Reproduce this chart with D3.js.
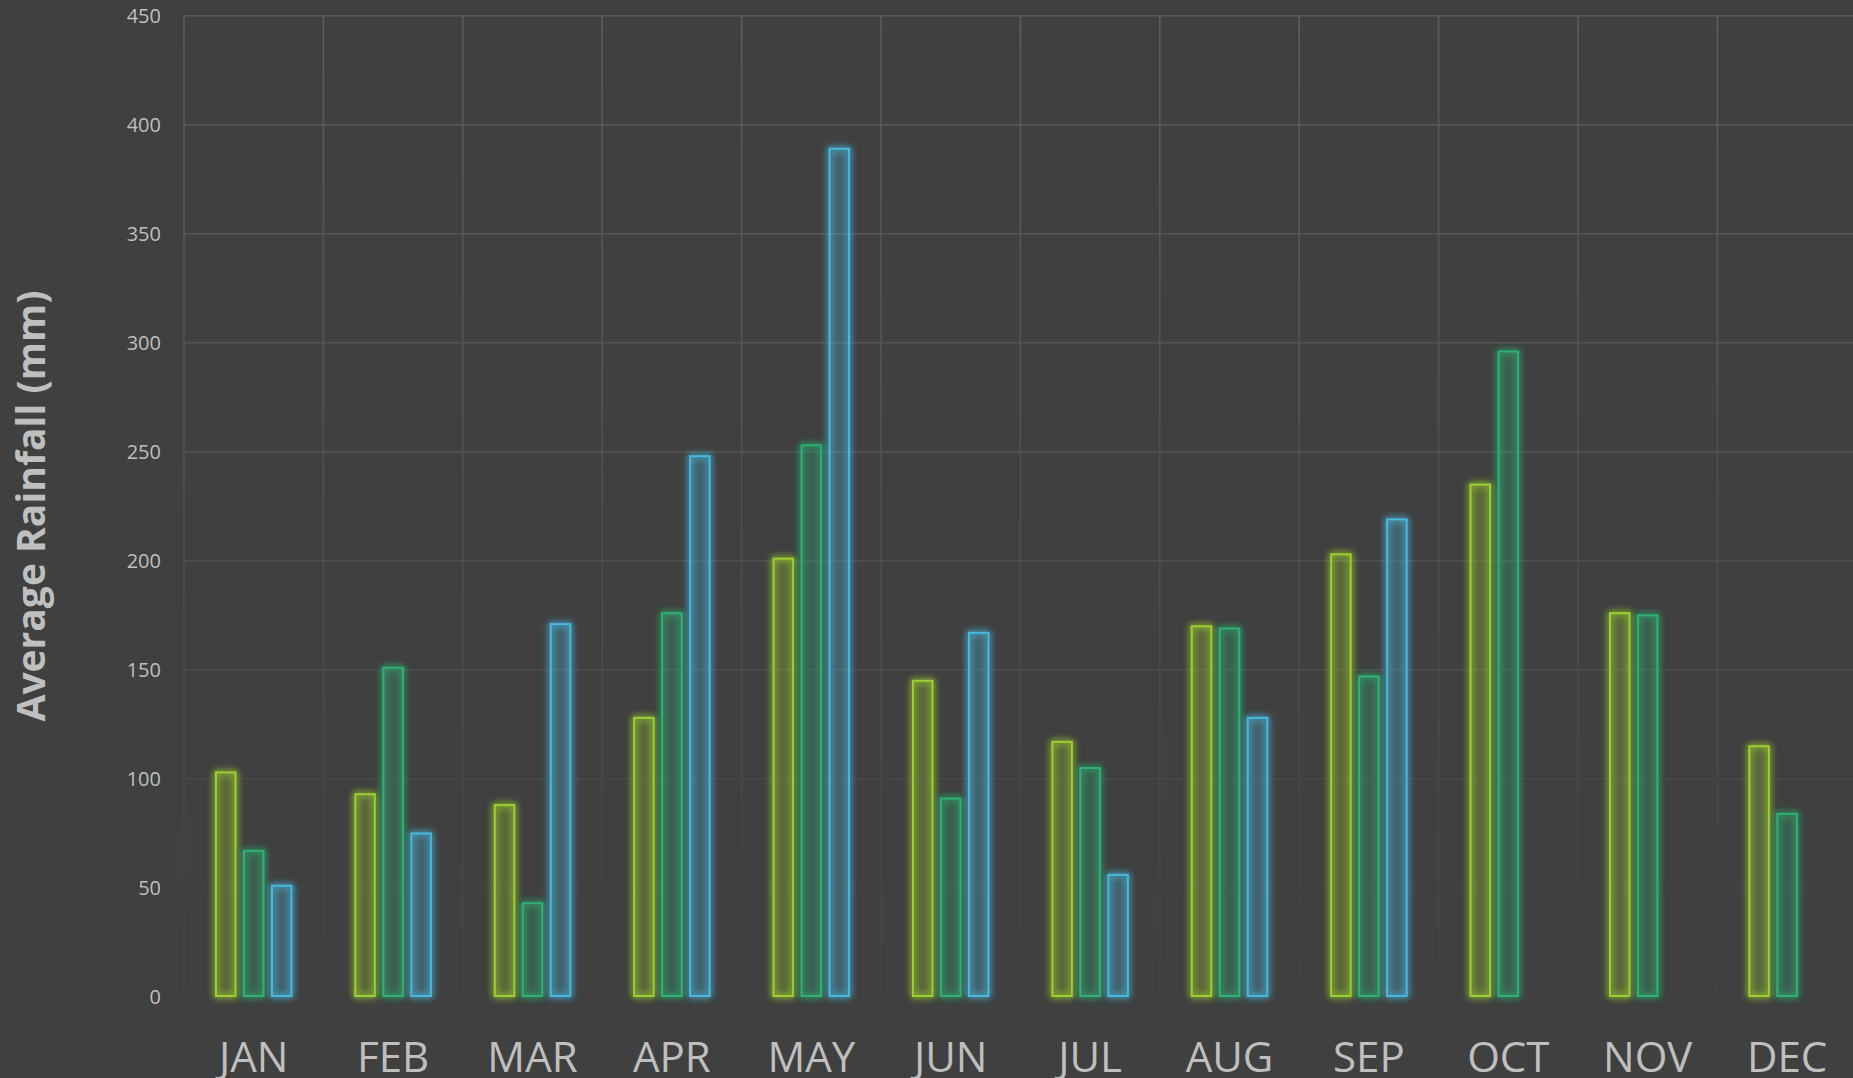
<!DOCTYPE html>
<html>
<head>
<meta charset="utf-8">
<script src="https://cdn.jsdelivr.net/npm/d3@7"></script>
<style>
  html, body { margin: 0; padding: 0; background: #404040; overflow: hidden; }
  svg { display: block; }
</style>
</head>
<body>
<div id="chart"></div>
<script>
// monthly average rainfall, three series (third missing for Oct-Dec)
const months = ["JAN", "FEB", "MAR", "APR", "MAY", "JUN", "JUL", "AUG", "SEP", "OCT", "NOV", "DEC"];
const seriesNames = ["a", "b", "c"];
const seriesA = [103, 93, 88, 128, 201, 145, 117, 170, 203, 235, 176, 115];
const seriesB = [67, 151, 43, 176, 253, 91, 105, 169, 147, 296, 175, 84];
const seriesC = [51, 75, 171, 248, 389, 167, 56, 128, 219, null, null, null];
const yTicks = [0, 50, 100, 150, 200, 250, 300, 350, 400, 450];

const colors = { a: "#9ccf31", b: "#2fb172", c: "#48b8de" };

const width = 1853, height = 1078;
const plotLeft = 184, plotTop = 15.7, plotBottom = 997, band = 139.4;

const svg = d3.select("#chart").append("svg")
    .attr("width", width)
    .attr("height", height);

svg.append("rect").attr("width", width).attr("height", height).attr("fill", "#404040");

const defs = svg.append("defs");

// grid fades out toward the bottom
const grad = defs.append("linearGradient")
    .attr("id", "gridFade")
    .attr("gradientUnits", "userSpaceOnUse")
    .attr("x1", 0).attr("x2", 0)
    .attr("y1", plotTop).attr("y2", plotBottom);
grad.append("stop").attr("offset", "0%").attr("stop-color", "#5c5c5c");
grad.append("stop").attr("offset", "55%").attr("stop-color", "#4e4e4e");
grad.append("stop").attr("offset", "100%").attr("stop-color", "#424242");

const glow = defs.append("filter")
    .attr("id", "glow")
    .attr("x", "-80%").attr("y", "-10%")
    .attr("width", "260%").attr("height", "120%");
glow.append("feGaussianBlur").attr("in", "SourceGraphic").attr("stdDeviation", 3.6).attr("result", "blur");
const merge = glow.append("feMerge");
merge.append("feMergeNode").attr("in", "blur");
merge.append("feMergeNode").attr("in", "blur");
merge.append("feMergeNode").attr("in", "SourceGraphic");

const x0 = d3.scaleBand()
    .domain(months)
    .range([plotLeft, plotLeft + band * months.length]);

const x1 = d3.scaleBand()
    .domain(seriesNames)
    .range([band / 2 - 42, band / 2 + 42])
    .paddingInner(0.232)
    .paddingOuter(0.116);

const y = d3.scaleLinear()
    .domain([0, 450])
    .range([plotBottom, plotTop]);

// gridlines
const grid = svg.append("g").attr("stroke", "url(#gridFade)").attr("stroke-width", 1.6);

grid.selectAll(".h")
    .data(yTicks.filter(d => d > 0))
    .enter().append("line")
    .attr("x1", plotLeft).attr("x2", width)
    .attr("y1", d => y(d)).attr("y2", d => y(d));

grid.selectAll(".v")
    .data(months)
    .enter().append("line")
    .attr("x1", d => x0(d)).attr("x2", d => x0(d))
    .attr("y1", plotTop).attr("y2", plotBottom);

// y tick labels
svg.append("g").selectAll("text")
    .data(yTicks)
    .enter().append("text")
    .attr("x", 161)
    .attr("y", d => y(d))
    .attr("dy", "0.36em")
    .attr("text-anchor", "end")
    .attr("fill", "#bfbfbf")
    .style("font-family", "'Open Sans', sans-serif")
    .style("font-size", "20px")
    .text(d => d);

// month labels
svg.append("g").selectAll("text")
    .data(months)
    .enter().append("text")
    .attr("x", d => x0(d) + band / 2)
    .attr("y", 1072)
    .attr("text-anchor", "middle")
    .attr("fill", "#bfbfbf")
    .style("font-family", "'Open Sans', sans-serif")
    .style("font-size", "42px")
    .text(d => d);

// axis title
svg.append("text")
    .attr("transform", "translate(45," + 506 + ") rotate(-90)")
    .attr("text-anchor", "middle")
    .attr("fill", "#bfbfbf")
    .style("font-family", "'Open Sans', sans-serif")
    .style("font-weight", "bold")
    .style("font-size", "39px")
    .text("Average Rainfall (mm)");

// bars
const rows = months.map((m, i) => ({
    month: m,
    values: [
        { key: "a", v: seriesA[i] },
        { key: "b", v: seriesB[i] },
        { key: "c", v: seriesC[i] }
    ].filter(d => d.v !== null)
}));

const groups = svg.append("g").selectAll("g")
    .data(rows)
    .enter().append("g")
    .attr("transform", d => "translate(" + x0(d.month) + ",0)");

groups.selectAll("rect")
    .data(d => d.values)
    .enter().append("rect")
    .attr("x", d => x1(d.key) + 1)
    .attr("width", x1.bandwidth() - 2)
    .attr("y", d => y(d.v))
    .attr("height", d => plotBottom - 1 - y(d.v))
    .attr("fill", d => colors[d.key])
    .attr("fill-opacity", 0.1)
    .attr("stroke", d => colors[d.key])
    .attr("stroke-width", 2)
    .attr("filter", "url(#glow)");
</script>
</body>
</html>
